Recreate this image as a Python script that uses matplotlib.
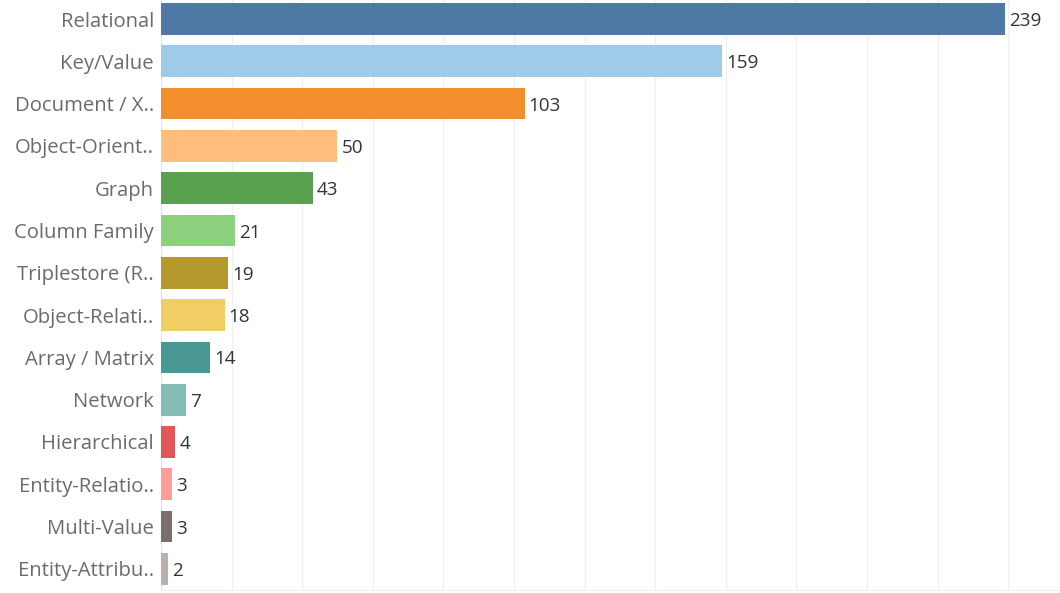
import matplotlib
matplotlib.use("Agg")
import matplotlib.pyplot as plt
from matplotlib.ticker import MultipleLocator

# model types and counts, top to bottom
CATEGORIES = ["Relational", "Key/Value", "Document / X..", "Object-Orient..",
              "Graph", "Column Family", "Triplestore (R..", "Object-Relati..",
              "Array / Matrix", "Network", "Hierarchical", "Entity-Relatio..",
              "Multi-Value", "Entity-Attribu.."]
COUNTS = [239, 159, 103, 50, 43, 21, 19, 18, 14, 7, 4, 3, 3, 2]
COLORS = ["#4e79a7", "#a0cbe8", "#f28e2b", "#ffbe7d", "#59a14f", "#8cd17d",
          "#b6992d", "#f1ce63", "#499894", "#86bcb6", "#e15759", "#ff9d9a",
          "#79706e", "#bab0ac"]

plt.rcParams["font.family"] = ["Open Sans", "DejaVu Sans"]

fig = plt.figure(figsize=(10.6, 5.93), dpi=100)
ax = fig.add_axes([161 / 1060, 3 / 593, 1 - 161 / 1060, 590 / 593])

ypos = list(range(len(CATEGORIES)))
ax.barh(ypos, COUNTS, height=0.75, color=COLORS, zorder=3)
for y, v in zip(ypos, COUNTS):
    ax.text(v + 1.2, y + 0.05, str(v), va="center", ha="left", fontsize=13.6,
            color="#333333", zorder=4)

ax.set_xlim(0, 254.7)
ax.set_ylim(len(CATEGORIES) - 0.5, -0.45)
ax.xaxis.set_major_locator(MultipleLocator(20))
ax.grid(axis="x", color="#f0f0f0", linewidth=1, zorder=0)
ax.set_yticks(ypos)
ax.set_yticklabels(CATEGORIES, fontsize=14.6, color="#6b6b6b")
ax.tick_params(axis="y", length=0, pad=5)
ax.tick_params(axis="x", length=0, labelbottom=False)
for s in ["top", "right"]:
    ax.spines[s].set_visible(False)
ax.spines["left"].set_color("#e6e6e6")
ax.spines["bottom"].set_color("#eeeeee")

fig.savefig("out.png", dpi=100, facecolor="white")
